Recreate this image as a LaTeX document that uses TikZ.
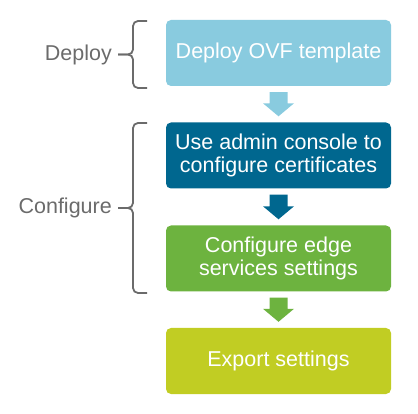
\documentclass[tikz,border=0pt]{standalone}
\usepackage{fontspec}
\setmainfont{Liberation Sans}
\usetikzlibrary{calc}
\definecolor{cLight}{HTML}{89CBDF}
\definecolor{cDark}{HTML}{00678F}
\definecolor{cGreen}{HTML}{6DB33F}
\definecolor{cLime}{HTML}{C1CD23}
\definecolor{cGray}{HTML}{6B6B6B}
\tikzset{
  stepbox/.style={rounded corners=5pt, minimum width=225pt, minimum height=66pt,
    inner sep=0pt, align=center, text=white,
    font=\fontsize{21.5pt}{22.5pt}\selectfont},
  grouplabel/.style={text=cGray, font=\fontsize{21.5pt}{22.5pt}\selectfont, inner sep=0pt},
  bracestyle/.style={draw=cGray, line width=1.8pt, rounded corners=5pt},
}
\newcommand{\blockarrow}[3]{% from node, to node, colour
  \fill[#3] ($(#1.south)+(-9pt,-6pt)$) -- ($(#1.south)+(9pt,-6pt)$)
    -- ($(#2.north)+(9pt,19pt)$) -- ($(#2.north)+(15.5pt,19pt)$)
    -- ($(#2.north)+(0pt,6pt)$) -- ($(#2.north)+(-15.5pt,19pt)$)
    -- ($(#2.north)+(-9pt,19pt)$) -- cycle;}
\begin{document}
\begin{tikzpicture}[x=1pt,y=-1pt]
\useasboundingbox (0,0) rectangle (418,414);
\node[stepbox, fill=cLight] (b1) at (278.5,53) {Deploy OVF template};
\node[stepbox, fill=cDark] (b2) at (278.5,155.5) {Use admin console to\\configure certificates};
\node[stepbox, fill=cGreen] (b3) at (278.5,258.5) {Configure edge\\services settings};
\node[stepbox, fill=cLime] (b4) at (278.5,361) {Export settings};
\blockarrow{b1}{b2}{cLight}
\blockarrow{b2}{b3}{cDark}
\blockarrow{b3}{b4}{cGreen}
% braces
\coordinate (d1) at (147,21);
\coordinate (d2) at (147,88);
\coordinate (dt) at (118,54.5);
\draw[bracestyle] (d1) -| (133,54.5) -- (dt);
\draw[bracestyle] (d2) -| (133,54.5) -- (dt);
\node[grouplabel, anchor=east] (lab1) at (112,54.5) {Deploy};
\coordinate (c1) at (147,123);
\coordinate (c2) at (147,293);
\coordinate (ct) at (118,208);
\draw[bracestyle] (c1) -| (133,208) -- (ct);
\draw[bracestyle] (c2) -| (133,208) -- (ct);
\node[grouplabel, anchor=east] (lab2) at (112,208) {Configure};
\end{tikzpicture}
\end{document}
